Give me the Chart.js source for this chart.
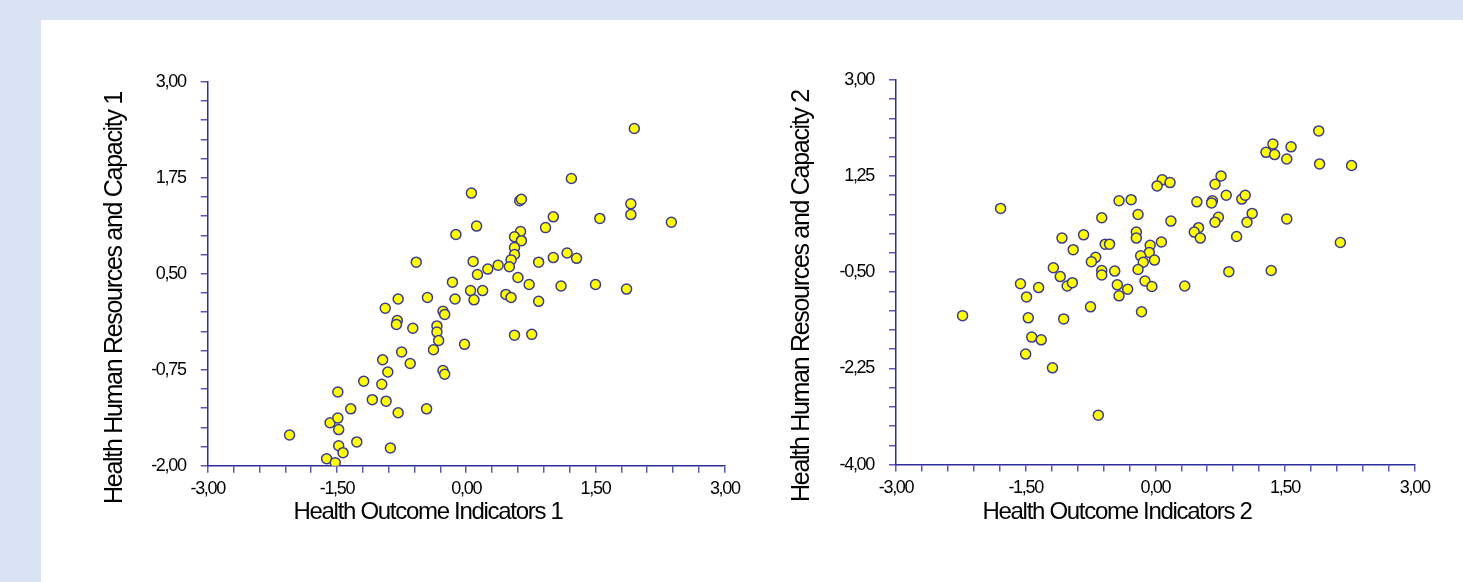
<!DOCTYPE html>
<html>
<head>
<meta charset="utf-8">
<script src="https://cdn.jsdelivr.net/npm/chart.js@4/dist/chart.umd.min.js"></script>
<style>
  html, body { margin: 0; padding: 0; width: 1463px; height: 582px; overflow: hidden; background: #dae3f3; }
  #panel { position: absolute; left: 41px; top: 20px; right: 0; bottom: 0; background: #ffffff; }
  canvas { position: absolute; }
</style>
</head>
<body>
<div id="panel"></div>
<canvas id="c1"></canvas>
<canvas id="c2"></canvas>
<script>
// ---------- data ----------
const leftX = [1.95, 1.22, 0.06, 0.62, 0.64, 1.01, 1.55, 1.91, 1.91, 2.38,
  0.12, -0.12, 0.92, 0.63, 0.56, 0.64, 0.56, 0.56, -0.58, 0.08,
  0.52, 0.50, 0.37, 0.25, 0.13, 0.84, 1.01, 1.17, 1.28, 0.60,
  -0.16, 0.73, 1.10, 1.50, 1.86, 0.05, 0.19, 0.46, 0.52, 0.84,
  -0.79, -0.45, -0.13, 0.09, -0.94, -0.80, -0.81, -0.62, -0.27, -0.25,
  -0.34, -0.34, -0.32, -0.38, -0.02, 0.56, 0.76, -0.75, -0.97, -0.65,
  -0.91, -0.27, -0.25, -1.19, -0.98, -1.49, -1.09, -0.93, -1.34, -0.79,
  -0.46, -2.05, -1.58, -1.49, -1.48, -1.27, -1.48, -1.43, -0.88, -1.62, -1.52];
const leftY = [2.39, 1.74, 1.55, 1.45, 1.47, 1.24, 1.22, 1.41, 1.27, 1.17,
  1.12, 1.01, 1.10, 1.05, 0.98, 0.93, 0.84, 0.75, 0.65, 0.66,
  0.68, 0.59, 0.61, 0.56, 0.49, 0.65, 0.71, 0.77, 0.70, 0.45,
  0.39, 0.36, 0.34, 0.36, 0.30, 0.28, 0.28, 0.23, 0.19, 0.14,
  0.17, 0.19, 0.17, 0.16, 0.05, -0.11, -0.16, -0.21, 0.01, -0.03,
  -0.18, -0.26, -0.37, -0.49, -0.42, -0.30, -0.29, -0.52, -0.62, -0.67,
  -0.78, -0.76, -0.81, -0.90, -0.94, -1.04, -1.14, -1.16, -1.26, -1.31,
  -1.26, -1.60, -1.44, -1.38, -1.53, -1.69, -1.74, -1.83, -1.77, -1.91, -1.96];

const rightX = [1.89, 1.36, 1.57, 1.28, 1.38, 1.52, 1.90, 2.27, 0.76, 0.69,
  0.08, 0.02, 0.17, -1.79, -0.42, -0.28, 0.48, 0.66, 0.65, 0.82,
  1.00, 1.04, -0.62, -0.20, 0.18, 0.73, 0.69, 1.12, 1.06, 1.52,
  0.50, 0.45, 0.52, 0.94, 2.14, -1.08, -0.83, -0.95, -0.22, -0.22,
  -0.58, -0.53, -0.06, 0.07, -0.07, -0.17, -0.14, -0.01, -0.69, -0.74,
  -1.18, -1.10, -0.62, -0.62, -0.47, -0.20, 0.85, 1.34, -1.56, -1.35,
  -1.02, -0.96, -0.44, -0.32, -0.12, -0.04, 0.34, -1.49, -0.42, -2.23,
  -1.47, -1.06, -0.75, -0.16, -1.43, -1.32, -1.50, -1.19, -0.66];
const rightY = [2.07, 1.83, 1.78, 1.68, 1.64, 1.56, 1.47, 1.44, 1.25, 1.10,
  1.18, 1.07, 1.13, 0.66, 0.80, 0.82, 0.78, 0.80, 0.76, 0.90,
  0.83, 0.90, 0.49, 0.55, 0.43, 0.50, 0.41, 0.57, 0.41, 0.47,
  0.31, 0.23, 0.12, 0.15, 0.04, 0.12, 0.18, -0.09, 0.23, 0.12,
  0.01, 0.01, -0.01, 0.05, -0.14, -0.20, -0.32, -0.28, -0.23, -0.31,
  -0.42, -0.58, -0.47, -0.55, -0.48, -0.45, -0.49, -0.47, -0.71, -0.78,
  -0.75, -0.69, -0.73, -0.81, -0.66, -0.76, -0.75, -0.95, -0.93, -1.29,
  -1.33, -1.35, -1.13, -1.22, -1.68, -1.73, -1.99, -2.24, -3.10];

const xTickLabels = ['-3,00', '-1,50', '0,00', '1,50', '3,00'];
const leftYTickLabels = ['-2,00', '-0,75', '0,50', '1,75', '3,00'];
const rightYTickLabels = ['-4,00', '-2,25', '-0,50', '1,25', '3,00'];

const leftXTitle = 'Health Outcome Indicators 1';
const leftYTitle = 'Health Human Resources and Capacity 1';
const rightXTitle = 'Health Outcome Indicators 2';
const rightYTitle = 'Health Human Resources and Capacity 2';

// ---------- styling / layout ----------
const FONT = "'Liberation Sans', Arial, sans-serif";
const TICK_SIZE = 18, XT_SIZE = 24, YT_SIZE = 25;
const XT_LH = 0.8, YT_LH = 1.2, TICK_LH = 1.0;
const AXIS_COLOR = '#2e2e9e', TICK_COLOR = '#5a5ab4';

const spacingPlugin = {
  id: 'spacing',
  beforeLayout(c) { c.ctx.letterSpacing = '-1.3px'; },
  beforeDraw(c) { c.ctx.letterSpacing = '-1.3px'; }
};

function tickValues(min, max, n) {
  const out = [];
  for (let i = 0; i <= n; i++) out.push(min + (max - min) * i / n);
  return out;
}

function build(id, g) {
  const cv = document.getElementById(id);
  const lhX = XT_SIZE * XT_LH, lhY = YT_SIZE * YT_LH;
  const subPadTop = g.yTitle.cx - g.ox - lhY / 2;
  const subW = lhY + subPadTop;
  const yScaleW = g.area.l - g.ox - subW;
  const titleSpan = 2 * (g.xTitle.cx - g.ox);
  const W = Math.ceil(titleSpan);
  const padR = W - titleSpan;
  const dummyRight = titleSpan - (g.area.r - g.ox);
  const xsH = 35;
  const tPadTop = Math.max(0, g.xTitle.cy - g.area.b - xsH - lhX / 2);
  const tH = lhX + tPadTop;
  const bottomEdge = g.area.b - g.oy + xsH + tH;
  const padT = 2 * (g.yTitle.cy - g.oy) - bottomEdge;
  const dummyTop = g.area.t - g.oy - padT;
  const H = Math.ceil(bottomEdge + 10);
  const padB = H - bottomEdge;

  cv.width = W; cv.height = H;
  cv.style.left = g.ox + 'px'; cv.style.top = g.oy + 'px';
  cv.style.width = W + 'px'; cv.style.height = H + 'px';

  const xVals = tickValues(g.xMin, g.xMax, 20);
  const yVals = tickValues(g.yMin, g.yMax, 20);
  const pts = g.xs.map((x, i) => ({ x: x, y: g.ys[i] }));

  const axisCommon = {
    grid: { display: true, drawOnChartArea: false, drawTicks: true, tickLength: 7, color: TICK_COLOR, lineWidth: 1.5 },
    border: { display: true, color: AXIS_COLOR, width: 1.5 },
  };

  new Chart(cv, {
    type: 'scatter',
    data: { datasets: [{
      data: pts,
      backgroundColor: '#ffff00',
      borderColor: '#3b3b8e',
      borderWidth: 1.5,
      pointRadius: 5,
      pointHoverRadius: 5
    }] },
    options: {
      responsive: false,
      animation: false,
      devicePixelRatio: 1,
      layout: { padding: { left: 0, right: padR, top: padT, bottom: padB } },
      plugins: {
        legend: { display: false },
        tooltip: { enabled: false },
        title: {
          display: true, position: 'bottom', fullSize: true, align: 'center',
          text: g.xTitleText, color: '#000000',
          font: { family: FONT, size: XT_SIZE, weight: 'normal', lineHeight: XT_LH },
          padding: { top: tPadTop, bottom: 0 }
        },
        subtitle: {
          display: true, position: 'left', fullSize: true, align: 'center',
          text: g.yTitleText, color: '#000000',
          font: { family: FONT, size: YT_SIZE, weight: 'normal', lineHeight: YT_LH },
          padding: { top: subPadTop, bottom: 0 }
        }
      },
      scales: {
        x: Object.assign({}, axisCommon, {
          type: 'linear', position: 'bottom', min: g.xMin, max: g.xMax,
          afterBuildTicks: s => { s.ticks = xVals.map(v => ({ value: v })); },
          afterFit: s => { s.height = xsH; },
          ticks: {
            autoSkip: false, maxRotation: 0, padding: 7, color: '#000000',
            font: { family: FONT, size: TICK_SIZE, lineHeight: TICK_LH },
            callback: (v, i) => (i % 5 === 0 ? g.xLabels[i / 5] : '')
          }
        }),
        y: Object.assign({}, axisCommon, {
          type: 'linear', position: 'left', min: g.yMin, max: g.yMax,
          afterBuildTicks: s => { s.ticks = yVals.map(v => ({ value: v })); },
          afterFit: s => { s.width = yScaleW; },
          ticks: {
            autoSkip: false, padding: 15, color: '#000000',
            font: { family: FONT, size: TICK_SIZE, lineHeight: TICK_LH },
            callback: (v, i) => (i % 5 === 0 ? g.yLabels[i / 5] : '')
          }
        }),
        xTop: {
          type: 'linear', axis: 'x', position: 'top', min: 0, max: 1, display: true,
          grid: { display: false }, border: { display: false }, ticks: { display: false },
          afterFit: s => { s.height = dummyTop; }
        },
        yRight: {
          type: 'linear', axis: 'y', position: 'right', min: 0, max: 1, display: true,
          grid: { display: false }, border: { display: false }, ticks: { display: false },
          afterFit: s => { s.width = dummyRight; }
        }
      }
    },
    plugins: [spacingPlugin]
  });
}

build('c1', {
  ox: 0, oy: 0,
  area: { l: 207.7, r: 724.8, t: 81.7, b: 465.7 },
  xTitle: { cx: 428, cy: 512 }, yTitle: { cx: 115, cy: 298 },
  xMin: -3, xMax: 3, yMin: -2, yMax: 3,
  xs: leftX, ys: leftY, xLabels: xTickLabels, yLabels: leftYTickLabels,
  xTitleText: leftXTitle, yTitleText: leftYTitle
});
build('c2', {
  ox: 680, oy: 0,
  area: { l: 896, r: 1414.7, t: 79.8, b: 464.6 },
  xTitle: { cx: 1117, cy: 512 }, yTitle: { cx: 802, cy: 296 },
  xMin: -3, xMax: 3, yMin: -4, yMax: 3,
  xs: rightX, ys: rightY, xLabels: xTickLabels, yLabels: rightYTickLabels,
  xTitleText: rightXTitle, yTitleText: rightYTitle
});
</script>
</body>
</html>
